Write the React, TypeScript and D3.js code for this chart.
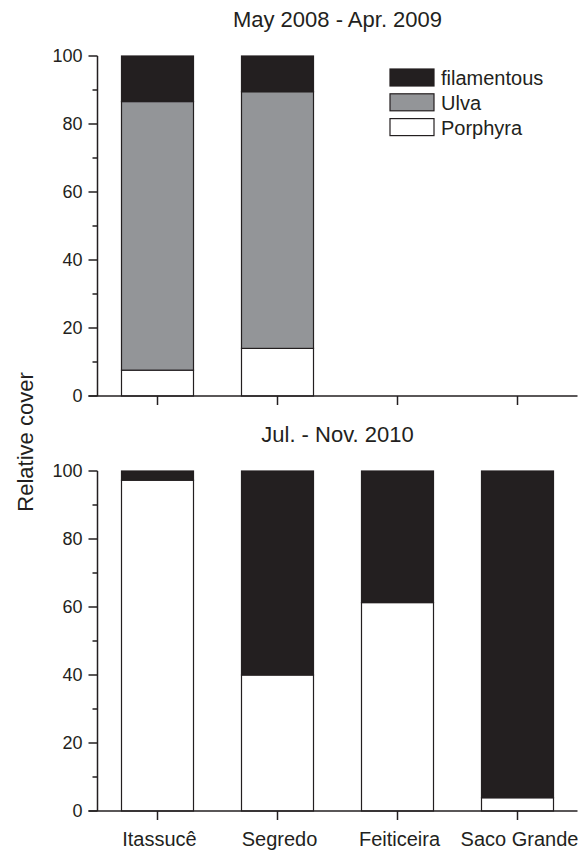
import React from "react";
import * as d3 from "d3";

const sites = ["Itassucê", "Segredo", "Feiticeira", "Saco Grande"];
const seriesNames = ["Porphyra", "Ulva", "filamentous"];
const legendOrder = ["filamentous", "Ulva", "Porphyra"];
const colors = ["#ffffff", "#939598", "#231f20"];

// Panel 1: May 2008 - Apr. 2009 (only first two sites)
const p1Porphyra = [7.6, 14.0, null, null];
const p1Ulva = [79.0, 75.5, null, null];
const p1Filamentous = [13.4, 10.5, null, null];

// Panel 2: Jul. - Nov. 2010
const p2Porphyra = [97.3, 40.0, 61.3, 3.9];
const p2Ulva = [0, 0, 0, 0];
const p2Filamentous = [2.7, 60.0, 38.7, 96.1];

const yTicks = [0, 20, 40, 60, 80, 100];
const yMinor = [10, 30, 50, 70, 90];
const titles = ["May 2008 - Apr. 2009", "Jul. - Nov. 2010"];

const FONT = "Arial, 'Liberation Sans', Helvetica, sans-serif";

function Panel({ top, bottom, title, data, showLabels, showLegend }) {
  const x = d3.scaleBand().domain(sites).range([97.5, 577.5]).paddingInner(0.4).paddingOuter(0.2);
  const y = d3.scaleLinear().domain([0, 100]).range([bottom, top]);
  const stack = d3.stack().keys(seriesNames)(
    sites.map((s, i) => ({
      site: s,
      valid: data[0][i] != null,
      Porphyra: data[0][i] ?? 0,
      Ulva: data[1][i] ?? 0,
      filamentous: data[2][i] ?? 0,
    }))
  );
  const axisX = 97.5;
  return (
    <g>
      <text x={337.5} y={top - 29} textAnchor="middle" fontSize={22} fontFamily={FONT} fill="#231f20">
        {title}
      </text>
      {stack.map((layer, li) =>
        layer.map((d, i) =>
          d.data.valid && d[1] - d[0] > 0 ? (
            <rect
              key={`${li}-${i}`}
              x={x(sites[i])}
              y={y(d[1])}
              width={x.bandwidth()}
              height={y(d[0]) - y(d[1])}
              fill={colors[li]}
              stroke="#231f20"
              strokeWidth={1.2}
            />
          ) : null
        )
      )}
      {/* y axis */}
      <line x1={axisX} x2={axisX} y1={y(100)} y2={y(0)} stroke="#231f20" strokeWidth={1.5} />
      {yTicks.map((t) => (
        <g key={t}>
          <line x1={axisX - 9} x2={axisX} y1={y(t)} y2={y(t)} stroke="#231f20" strokeWidth={1.5} />
          <text x={axisX - 15} y={y(t)} dy="0.36em" textAnchor="end" fontSize={18} fontFamily={FONT} fill="#231f20">
            {t}
          </text>
        </g>
      ))}
      {yMinor.map((t) => (
        <line key={t} x1={axisX - 5} x2={axisX} y1={y(t)} y2={y(t)} stroke="#231f20" strokeWidth={1.5} />
      ))}
      {/* x axis */}
      <line x1={axisX - 9} x2={577.5} y1={y(0)} y2={y(0)} stroke="#231f20" strokeWidth={1.5} />
      {sites.map((s) => (
        <g key={s}>
          <line
            x1={x(s) + x.bandwidth() / 2}
            x2={x(s) + x.bandwidth() / 2}
            y1={y(0)}
            y2={y(0) + 9}
            stroke="#231f20"
            strokeWidth={1.5}
          />
          {showLabels && (
            <text
              x={x(s) + x.bandwidth() / 2 + 2}
              y={y(0) + 35}
              textAnchor="middle"
              fontSize={20}
              fontFamily={FONT}
              fill="#231f20"
            >
              {s}
            </text>
          )}
        </g>
      ))}
      {showLegend &&
        legendOrder.map((name, i) => {
          const ci = seriesNames.indexOf(name);
          const ly = 69 + i * 24.8;
          return (
            <g key={name}>
              <rect x={390} y={ly} width={44} height={17} fill={colors[ci]} stroke="#231f20" strokeWidth={1.2} />
              <text x={441} y={ly + 16} fontSize={20} fontFamily={FONT} fill="#231f20">
                {name}
              </text>
            </g>
          );
        })}
    </g>
  );
}

export default function App() {
  return (
    <svg width={587} height={850} style={{ position: "absolute", left: 0, top: 0 }}>
      <rect width={587} height={850} fill="#ffffff" />
      <Panel
        top={56}
        bottom={396}
        title={titles[0]}
        data={[p1Porphyra, p1Ulva, p1Filamentous]}
        showLabels={false}
        showLegend={true}
      />
      <Panel
        top={471}
        bottom={811}
        title={titles[1]}
        data={[p2Porphyra, p2Ulva, p2Filamentous]}
        showLabels={true}
        showLegend={false}
      />
      <text
        transform="translate(33,442) rotate(-90)"
        textAnchor="middle"
        fontSize={22}
        fontFamily={FONT}
        fill="#231f20"
      >
        Relative cover
      </text>
    </svg>
  );
}
